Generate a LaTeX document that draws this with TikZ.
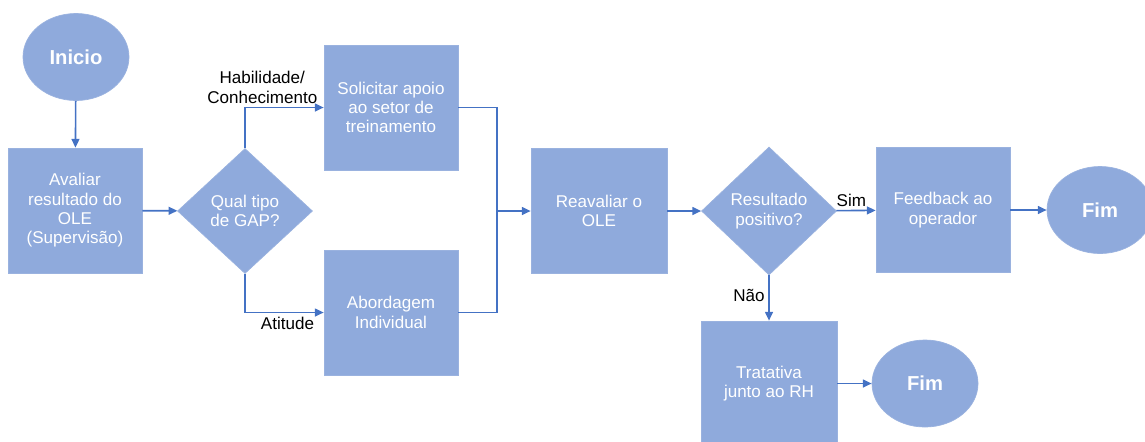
\documentclass[tikz,border=0pt]{standalone}
\usepackage{fontspec}
\setmainfont{Liberation Sans}
\usepackage{tikz}
\usetikzlibrary{positioning, arrows.meta, shapes.geometric}

\definecolor{boxfill}{HTML}{8FAADC}
\definecolor{linkblue}{HTML}{4472C4}

\begin{document}
\begin{tikzpicture}[
    every node/.style={font=\fontsize{9.7}{11}\selectfont},
    proc/.style={rectangle, fill=boxfill, draw=boxfill!90!white, text=white, align=center,
      minimum width=2.68cm, minimum height=2.5cm, inner sep=1pt},
    decis/.style={diamond, fill=boxfill, draw=boxfill!90!white, text=white, align=center,
      minimum width=2.7cm, minimum height=2.5cm, inner sep=0pt},
    term/.style={ellipse, fill=boxfill, draw=boxfill!90!white, text=white,
      minimum width=2.12cm, minimum height=1.74cm, font=\fontsize{11.5}{13}\selectfont\bfseries},
    link/.style={draw=linkblue, line width=0.9pt, -{Triangle[length=5pt, width=4.5pt]}},
    lbl/.style={text=black, align=center, inner sep=2pt}
  ]
  %% frame of the page
  \useasboundingbox (0,0) rectangle (22.9,-8.82);
  %% Left part
  \node[term] (inicio) at (1.52,-1.14) {Inicio};
  \node[proc] (avaliar) at (1.50,-4.21) {Avaliar\\resultado do\\OLE\\(Supervisão)};
  \node[decis] (gap) at (4.90,-4.22) {Qual tipo\\de GAP?};
  \node[proc] (solicitar) at (7.82,-2.15) {Solicitar apoio\\ao setor de\\treinamento};
  \node[proc] (abordagem) at (7.82,-6.25) {Abordagem\\Individual};
  %% Right part
  \node[proc, minimum width=2.72cm] (reavaliar) at (11.98,-4.22) {Reavaliar o\\OLE};
  \node[decis, minimum height=2.56cm] (resultado) at (15.38,-4.22) {Resultado\\positivo?};
  \node[proc] (feedback) at (18.86,-4.20) {Feedback ao\\operador};
  \node[term] (fimA) at (22.0,-4.20) {Fim};
  \node[proc, minimum width=2.72cm] (tratativa) at (15.38,-7.67) {Tratativa\\junto ao RH};
  \node[term] (fimB) at (18.50,-7.67) {Fim};
  \coordinate (junta) at (9.94,-4.22);
  %% Connectors
  \draw[link] (inicio) -- (avaliar);
  \draw[link] (avaliar) -- (gap);
  \draw[link] (gap.north) |- node[lbl, above, pos=0.61] {Habilidade/\\Conhecimento} (solicitar.west);
  \draw[link] (gap.south) |- node[lbl, below, pos=0.77] {Atitude} (abordagem.west);
  \draw[link, -] (solicitar.east) -| (junta);
  \draw[link, -] (abordagem.east) -| (junta);
  \draw[link] (junta) -- (reavaliar);
  \draw[link] (reavaliar) -- (resultado);
  \draw[link] (resultado) -- node[lbl, above, pos=0.38] {Sim} (feedback);
  \draw[link] (feedback) -- (fimA);
  \draw[link] (resultado) -- node[lbl, left, pos=0.45] {Não} (tratativa);
  \draw[link] (tratativa) -- (fimB);
\end{tikzpicture}
\end{document}
